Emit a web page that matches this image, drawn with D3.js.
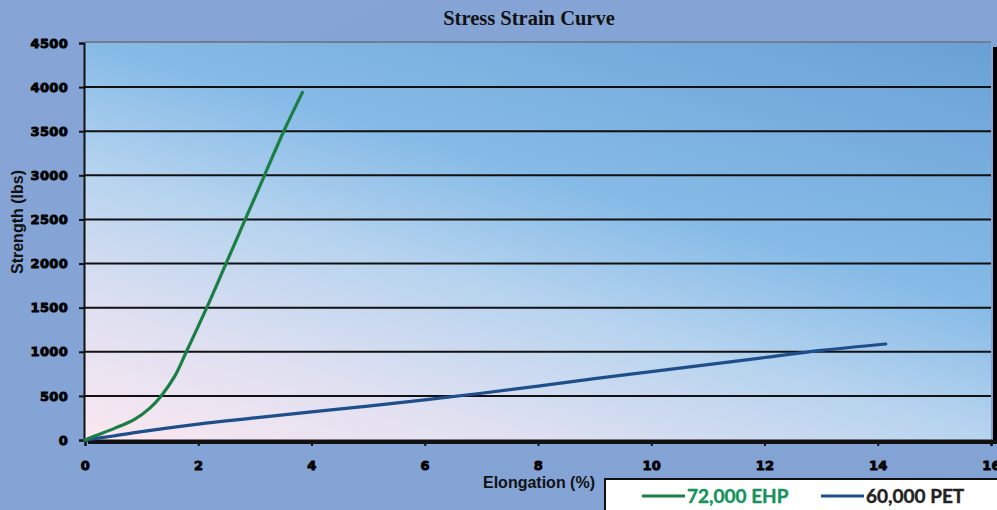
<!DOCTYPE html>
<html lang="en">
<head>
    <meta charset="UTF-8">
    <title>Stress Strain Curve</title>
    <script src="https://d3js.org/d3.v7.min.js"></script>
    <style>
        body { margin: 0; overflow: hidden; }
    </style>
</head>
<body>
    <svg width="997" height="510"></svg>
    <script>
        // data
        const xTicks = [0, 2, 4, 6, 8, 10, 12, 14, 16];
        const yTicks = [0, 500, 1000, 1500, 2000, 2500, 3000, 3500, 4000, 4500];
        const seriesNames = ['72,000 EHP', '60,000 PET'];

        const ehpElong    = [0, 0.17, 0.52, 0.875, 1.14, 1.346, 1.58, 1.79, 2.15, 2.49, 2.83, 3.17, 3.51, 3.84];
        const ehpStrength = [0, 45, 132, 234, 359, 500, 718, 1000, 1500, 2000, 2500, 3000, 3500, 3940];

        const petElong    = [0, 0.5, 1, 2, 3, 4, 5, 6, 7, 8, 9, 10, 11, 12, 13, 14.14];
        const petStrength = [0, 45, 95, 180, 250, 318, 385, 455, 530, 610, 695, 775, 855, 935, 1015, 1088];

        const svg = d3.select('svg');
        const plotLeft = 85, plotRight = 991, plotTop = 43, plotBottom = 440;

        const xScale = d3.scaleLinear().domain([0, 16]).range([plotLeft, plotRight]);
        const yScale = d3.scaleLinear().domain([0, 4500]).range([plotBottom, plotTop]);

        const defs = svg.append('defs');
        const bg = defs.append('linearGradient').attr('id', 'bg')
            .attr('x1', 0).attr('y1', 0).attr('x2', 1).attr('y2', 1);
        bg.append('stop').attr('offset', '0%').attr('stop-color', '#86a5d6');
        bg.append('stop').attr('offset', '100%').attr('stop-color', '#83a3d5');

        // mostly vertical blend: pink at bottom left, deep blue at top right
        const plotBg = defs.append('linearGradient').attr('id', 'plotBg')
            .attr('gradientUnits', 'userSpaceOnUse')
            .attr('x1', 85).attr('y1', 440).attr('x2', 263).attr('y2', -170);
        plotBg.append('stop').attr('offset', '0%').attr('stop-color', '#fbe7f0');
        plotBg.append('stop').attr('offset', '20%').attr('stop-color', '#dfe0f1');
        plotBg.append('stop').attr('offset', '40%').attr('stop-color', '#b8d4ef');
        plotBg.append('stop').attr('offset', '60%').attr('stop-color', '#86bbe7');
        plotBg.append('stop').attr('offset', '100%').attr('stop-color', '#6aa1d5');

        svg.append('rect').attr('width', 997).attr('height', 510).attr('fill', 'url(#bg)');

        // shadows right and bottom
        svg.append('rect').attr('x', plotRight + 2).attr('y', plotTop + 4).attr('width', 5).attr('height', plotBottom - plotTop)
            .attr('fill', '#000');
        svg.append('rect').attr('x', plotLeft + 3).attr('y', plotBottom).attr('width', plotRight - plotLeft + 6).attr('height', 4)
            .attr('fill', '#111');

        svg.append('rect').attr('x', plotLeft).attr('y', plotTop).attr('width', plotRight - plotLeft).attr('height', plotBottom - plotTop)
            .attr('fill', 'url(#plotBg)');

        // top border
        svg.append('line').attr('x1', plotLeft).attr('x2', plotRight).attr('y1', plotTop - 1).attr('y2', plotTop - 1)
            .attr('stroke', '#6f7f90').attr('stroke-width', 2);

        // gridlines
        svg.append('g').selectAll('line')
            .data(yTicks.slice(1, -1))
            .enter()
            .append('line')
            .attr('x1', plotLeft).attr('x2', plotRight)
            .attr('y1', d => yScale(d)).attr('y2', d => yScale(d))
            .attr('stroke', '#111').attr('stroke-width', 2);

        const tickFont = 'DejaVu Sans, sans-serif';

        const yAxis = d3.axisLeft(yScale).tickValues(yTicks).tickSize(5).tickPadding(11).tickFormat(d3.format('d'));
        const gy = svg.append('g').attr('transform', `translate(${plotLeft - 1}, 0)`).call(yAxis);
        gy.select('.domain').attr('stroke', '#111').attr('stroke-width', 2);
        gy.selectAll('.tick line').attr('stroke', '#111').attr('stroke-width', 2);
        gy.selectAll('.tick text').attr('font-family', tickFont).attr('font-weight', 'bold')
            .attr('font-size', 13).attr('fill', '#000').attr('stroke', '#000').attr('stroke-width', 0.9)
            .attr('letter-spacing', 0.3);

        const xAxis = d3.axisBottom(xScale).tickValues(xTicks).tickSize(6).tickPadding(15);
        const gx = svg.append('g').attr('transform', `translate(0, ${plotBottom})`).call(xAxis);
        gx.select('.domain').attr('stroke', '#111').attr('stroke-width', 2);
        gx.selectAll('.tick line').attr('stroke', '#111').attr('stroke-width', 2);
        gx.selectAll('.tick text').attr('font-family', tickFont).attr('font-weight', 'bold')
            .attr('font-size', 13).attr('fill', '#000').attr('stroke', '#000').attr('stroke-width', 0.9)
            .attr('letter-spacing', 0.3);

        // lines
        const line = d3.line()
            .x(d => xScale(d[0]))
            .y(d => yScale(d[1]))
            .curve(d3.curveCatmullRom.alpha(0.5));

        svg.append('path')
            .attr('d', line(petElong.map((e, i) => [e, petStrength[i]])))
            .attr('fill', 'none').attr('stroke', '#1f4f8b').attr('stroke-width', 3.2)
            .attr('stroke-linecap', 'round');

        svg.append('path')
            .attr('d', line(ehpElong.map((e, i) => [e, ehpStrength[i]])))
            .attr('fill', 'none').attr('stroke', '#1b7f45').attr('stroke-width', 3.2)
            .attr('stroke-linecap', 'round');

        // titles
        svg.append('text').attr('x', 529).attr('y', 25).attr('text-anchor', 'middle')
            .attr('font-family', 'Liberation Serif, serif').attr('font-weight', 'bold')
            .attr('font-size', 20.5).attr('fill', '#111').text('Stress Strain Curve');

        svg.append('text').attr('transform', 'translate(23, 222) rotate(-90)').attr('text-anchor', 'middle')
            .attr('font-family', 'Liberation Sans, Arial, sans-serif').attr('font-weight', 'bold')
            .attr('font-size', 16).attr('fill', '#111').text('Strength (lbs)');

        svg.append('text').attr('x', 539).attr('y', 488).attr('text-anchor', 'middle')
            .attr('font-family', 'Liberation Sans, Arial, sans-serif').attr('font-weight', 'bold')
            .attr('font-size', 16).attr('fill', '#111').text('Elongation (%)');

        // legend
        const legend = svg.append('g');
        legend.append('rect').attr('x', 605).attr('y', 479).attr('width', 400).attr('height', 60)
            .attr('fill', '#fff').attr('stroke', '#111').attr('stroke-width', 2);

        const legendColors = ['#1b7f45', '#1f4f8b'];
        const legendText = ['#15935a', '#222'];
        const legendX = [642, 821];
        legend.selectAll('line')
            .data(seriesNames)
            .enter()
            .append('line')
            .attr('x1', (d, i) => legendX[i]).attr('x2', (d, i) => legendX[i] + 43)
            .attr('y1', 496).attr('y2', 496)
            .attr('stroke', (d, i) => legendColors[i]).attr('stroke-width', 3);
        legend.selectAll('text')
            .data(seriesNames)
            .enter()
            .append('text')
            .attr('x', (d, i) => legendX[i] + 45).attr('y', 502.5)
            .attr('font-family', 'Lato, sans-serif').attr('font-weight', 'bold')
            .attr('font-size', 19).attr('fill', (d, i) => legendText[i])
            .attr('stroke', (d, i) => legendText[i]).attr('stroke-width', 0.4)
            .text(d => d);
    </script>
</body>
</html>
